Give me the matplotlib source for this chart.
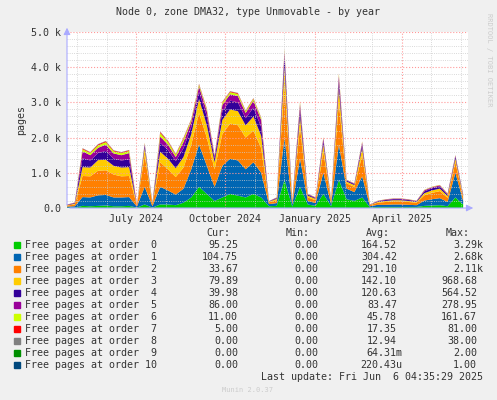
import numpy as np
import pandas as pd
import matplotlib
matplotlib.use("Agg")
import matplotlib.pyplot as plt
import matplotlib.dates as mdates
from matplotlib.ticker import MultipleLocator, FuncFormatter

plt.rcParams['font.family'] = ['DejaVu Sans Mono']

# sample dates, every 8 days
dates = pd.date_range("2024-04-21", periods=52, freq="8D")

order0 = [10,10,60,50,60,70,50,50,60,10,100,10,100,100,80,150,300,600,400,200,300,400,350,300,400,300,50,60,800,40,600,100,60,400,50,800,250,200,300,20,30,30,30,30,30,30,60,70,80,50,300,100]
order1 = [30,40,250,250,300,300,250,250,250,30,500,40,500,400,300,400,800,1200,800,400,900,1000,1000,800,900,700,60,80,1200,60,800,100,80,600,60,1000,300,250,600,30,60,60,70,70,60,50,150,180,200,120,700,100]
order2 = [30,50,600,600,700,700,650,600,600,30,900,50,700,600,500,600,700,900,800,500,900,1000,1000,900,900,700,50,80,1500,50,900,100,80,600,80,1200,150,150,600,30,60,80,90,90,80,70,150,180,200,120,300,100]
order3 = [10,20,250,250,300,300,250,250,250,10,200,20,300,300,250,300,300,400,350,200,400,400,400,350,400,350,20,40,500,20,300,50,40,200,30,400,50,50,200,10,20,30,30,30,30,20,60,70,70,50,100,40]
order4 = [10,20,250,200,200,250,200,200,220,10,80,15,250,250,200,250,200,200,250,100,250,250,250,200,250,250,10,20,300,15,200,30,20,100,15,200,30,30,100,5,20,25,30,30,25,20,50,60,60,40,60,30]
order5 = [5,10,200,150,150,180,150,150,180,5,40,10,180,150,120,180,150,150,150,70,180,180,180,150,200,200,5,15,150,10,150,20,15,80,10,150,15,15,60,5,10,15,15,15,15,10,30,30,30,20,30,20]
order6 = [2,5,60,60,70,70,60,60,60,2,20,5,100,80,60,80,50,50,50,20,60,60,60,50,50,50,2,5,50,3,50,5,5,20,5,50,5,5,20,2,5,5,5,5,5,5,10,10,10,10,10,5]
order7 = [1,2,20,20,25,25,20,20,20,1,8,2,30,25,20,25,20,20,20,8,20,20,20,15,15,15,1,2,15,1,15,2,2,8,2,15,2,2,8,1,2,2,2,2,2,2,4,4,4,4,4,2]
order8 = [0,1,10,10,12,12,10,10,10,0,4,1,15,12,10,12,10,10,10,4,10,10,10,8,8,8,0,1,8,0,8,1,1,4,1,8,1,1,4,0,1,1,1,1,1,1,2,2,2,2,2,0]
order9 = [0]*52
order10 = [0]*52

names = ["Free pages at order  %d" % i for i in range(10)] + ["Free pages at order 10"]
colors = ["#00CC00", "#0066B3", "#FF8000", "#FFCC00", "#330099", "#990099",
          "#CCFF00", "#FF0000", "#808080", "#008F00", "#00487D"]
cur = ["95.25", "104.75", "33.67", "79.89", "39.98", "86.00", "11.00", "5.00", "0.00", "0.00", "0.00"]
mins = ["0.00"] * 11
avg = ["164.52", "304.42", "291.10", "142.10", "120.63", "83.47", "45.78", "17.35", "12.94", "64.31m", "220.43u"]
mx = ["3.29k", "2.68k", "2.11k", "968.68", "564.52", "278.95", "161.67", "81.00", "38.00", "2.00", "1.00"]

bg = "#F0F0F0"
fs = 7.2
fig = plt.figure(figsize=(4.97, 4.0), dpi=100, facecolor=bg)
ax = fig.add_axes([67/497, 1-208/400, 401/497, 176/400])
ax.set_facecolor("white")

series = [order0, order1, order2, order3, order4, order5, order6, order7, order8, order9, order10]
ax.stackplot(dates, *series, colors=colors, linewidth=0)

ax.set_xlim(pd.Timestamp("2024-04-21"), pd.Timestamp("2025-06-08"))
ax.set_ylim(0, 5000)
ax.yaxis.set_major_locator(MultipleLocator(1000))
ax.yaxis.set_minor_locator(MultipleLocator(200))
ax.yaxis.set_major_formatter(FuncFormatter(lambda v, p: "%.1f k" % (v/1000) if v else "0.0"))
ax.xaxis.set_major_locator(mdates.MonthLocator(bymonth=[1, 4, 7, 10]))
ax.xaxis.set_major_formatter(FuncFormatter(lambda v, p: mdates.num2date(v).strftime("%B %Y")))
ax.xaxis.set_minor_locator(mdates.MonthLocator())
ax.grid(which="major", color="#FF9999", linestyle=":", linewidth=0.8)
ax.grid(which="minor", color="#CCCCCC", linestyle=":", linewidth=0.6)
ax.set_axisbelow(False)
for s in ax.spines.values():
    s.set_visible(False)
ax.tick_params(axis="both", which="both", length=0, labelsize=fs, colors="#333333", pad=4)
ax.set_ylabel("pages", fontsize=fs, color="#333333")
ax.annotate("", xy=(1.02, 0), xytext=(0, 0), xycoords="axes fraction",
            arrowprops=dict(arrowstyle="-|>", color="#AAAAFF", lw=0.8))
ax.annotate("", xy=(0, 1.04), xytext=(0, 0), xycoords="axes fraction",
            arrowprops=dict(arrowstyle="-|>", color="#AAAAFF", lw=0.8))

fig.text(248/497, 1-12/400, "Node 0, zone DMA32, type Unmovable - by year",
         ha="center", va="center", fontsize=fs, color="#333333")
fig.text(489/497, 1-60/400, "RRDTOOL / TOBI OETIKER", rotation=270, ha="center",
         va="center", fontsize=5, color="#CCCCCC")

fig.text(230/497, 1-233/400, "Cur:", ha="right", va="center", fontsize=fs, color="#333333")
fig.text(310/497, 1-233/400, "Min:", ha="right", va="center", fontsize=fs, color="#333333")
fig.text(390/497, 1-233/400, "Avg:", ha="right", va="center", fontsize=fs, color="#333333")
fig.text(470/497, 1-233/400, "Max:", ha="right", va="center", fontsize=fs, color="#333333")
for i in range(11):
    y = 1 - (245 + i*12)/400
    fig.patches.append(plt.Rectangle((14/497, y-3/400), 6/497, 6/400, color=colors[i],
                                     transform=fig.transFigure, figure=fig))
    fig.text(25/497, y, names[i], va="center", fontsize=fs, color="#333333")
    fig.text(238/497, y, cur[i], ha="right", va="center", fontsize=fs, color="#333333")
    fig.text(318/497, y, mins[i], ha="right", va="center", fontsize=fs, color="#333333")
    fig.text(402/497 if avg[i][-1] in "mu" else 397/497, y, avg[i], ha="right", va="center", fontsize=fs, color="#333333")
    fig.text(483/497 if mx[i].endswith("k") else 477/497, y, mx[i], ha="right", va="center", fontsize=fs, color="#333333")
fig.text(483/497, 1-377/400, "Last update: Fri Jun  6 04:35:29 2025", ha="right",
         va="center", fontsize=fs, color="#333333")
fig.text(248/497, 1-390/400, "Munin 2.0.37", ha="center", va="center", fontsize=5, color="#CCCCCC")

fig.savefig("out.png", dpi=100, facecolor=bg)
